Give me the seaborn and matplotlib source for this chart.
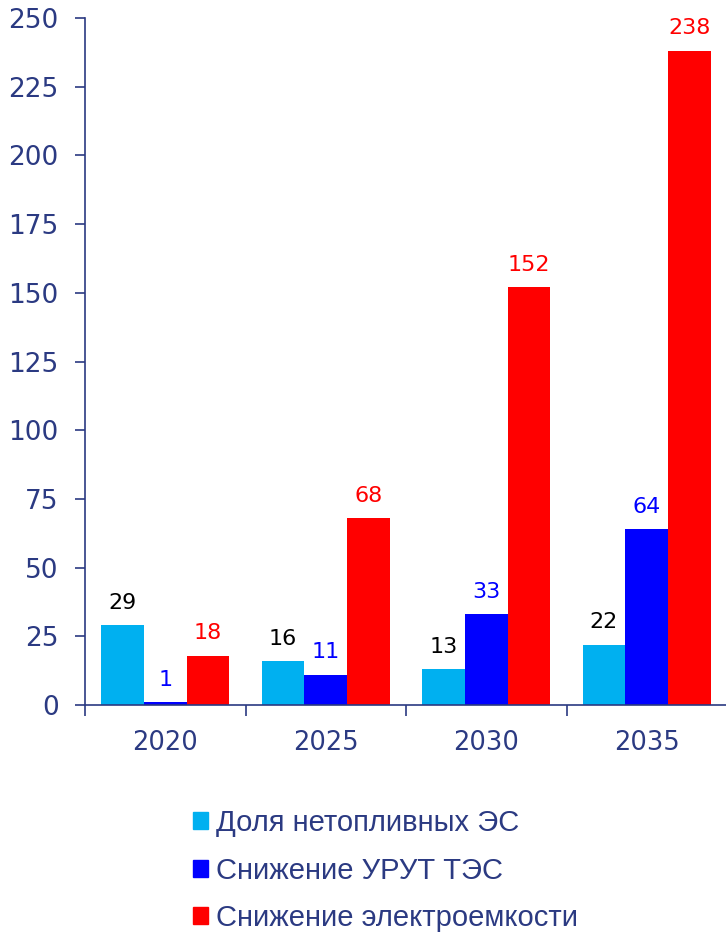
import pandas as pd
import matplotlib.pyplot as plt
import seaborn as sns
import numpy as np

# Chart data
years = ['2020', '2025', '2030', '2035']
series_names = ['Доля нетопливных ЭС', 'Снижение УРУТ ТЭС', 'Снижение электроемкости']
non_fuel = [29, 16, 13, 22]
urut = [1, 11, 33, 64]
el_intensity = [18, 68, 152, 238]

palette = ['#00B0F0', '#0000FF', '#FF0000']
label_colors = ['black', '#0000FF', '#FF0000']
navy = '#2B3A82'

# Long format for seaborn
df = pd.DataFrame({
    'Year': years * 3,
    'Series': [series_names[0]] * 4 + [series_names[1]] * 4 + [series_names[2]] * 4,
    'Value': non_fuel + urut + el_intensity,
})

sns.set_style('white')
plt.rcParams['font.family'] = ['DejaVu Sans']

fig = plt.figure(figsize=(7.26, 9.39), dpi=100)
ax = fig.add_axes([85 / 726, 1 - 705 / 939, 642 / 726, (705 - 18) / 939])

sns.barplot(data=df, x='Year', y='Value', hue='Series', palette=palette,
            saturation=1, width=0.8, edgecolor='none', ax=ax, legend=False)

# Value labels above the bars
for container, col in zip(ax.containers, label_colors):
    ax.bar_label(container, labels=[f'{v:.0f}' for v in container.datavalues],
                 padding=9, color=col, fontsize=16)

# Axes styling
ax.set_ylim(0, 250)
ax.set_xlim(-0.5, 3.5)
ax.set_yticks(np.arange(0, 251, 25))
ax.set_xlabel('')
ax.set_ylabel('')
for side in ['top', 'right']:
    ax.spines[side].set_visible(False)
for side in ['left', 'bottom']:
    ax.spines[side].set_color(navy)
    ax.spines[side].set_linewidth(1.2)
ax.tick_params(axis='y', colors=navy, labelcolor=navy, labelsize=19,
               length=7, width=1.2, direction='out', left=True, pad=12)
ax.tick_params(axis='x', which='major', labelcolor=navy, labelsize=18.5,
               length=0, pad=18)
ax.set_xticks(np.arange(-0.5, 4, 1), minor=True)
ax.tick_params(axis='x', which='minor', colors=navy, length=8, width=1.2,
               direction='out', bottom=True)

# Legend below the chart
handles = [plt.Rectangle((0, 0), 1, 1, color=c) for c in palette]
leg = fig.legend(handles, series_names, loc='upper left',
                 bbox_to_anchor=(193 / 726, 1 - 809 / 939), frameon=False,
                 prop={'family': 'Liberation Sans', 'size': 21},
                 borderpad=0, borderaxespad=0,
                 handlelength=0.5, handleheight=0.5, handletextpad=0.3,
                 labelspacing=0.67)
for t in leg.get_texts():
    t.set_color(navy)

fig.savefig('out.png', dpi=100)
